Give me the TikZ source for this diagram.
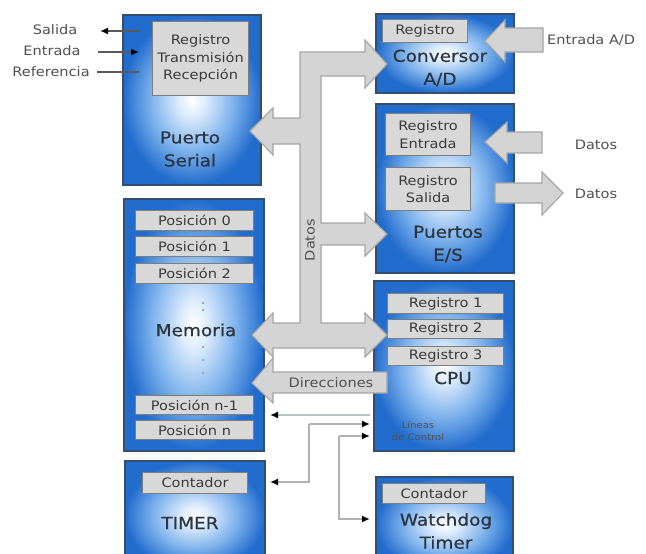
\documentclass[tikz,border=0pt]{standalone}
\usepackage{fontspec}
\setmainfont[FakeStretch=1.12]{DejaVu Sans}
\newfontfamily\titlefont[FakeStretch=1.12,FakeBold=0.6]{DejaVu Sans}
\usetikzlibrary{arrows.meta}

\definecolor{boxedge}{RGB}{34,108,205}
\definecolor{boxmid}{RGB}{125,178,236}
\definecolor{boxlight}{RGB}{220,235,252}
\definecolor{boxline}{RGB}{52,78,108}
\definecolor{regfill}{RGB}{216,216,216}
\definecolor{regline}{RGB}{125,125,125}
\definecolor{busfill}{RGB}{212,212,212}
\definecolor{busline}{RGB}{165,165,165}
\definecolor{maintext}{RGB}{44,52,64}
\definecolor{regtext}{RGB}{58,58,58}
\definecolor{sidetext}{RGB}{80,80,80}
\definecolor{ctlgrey}{RGB}{178,178,178}
\definecolor{ctlteal}{RGB}{182,198,198}

\pgfdeclareradialshading{blockshade}{\pgfpoint{0bp}{0bp}}{%
  color(0bp)=(white); color(5bp)=(boxlight); color(15bp)=(boxmid);
  color(25bp)=(boxedge); color(50bp)=(boxedge)}

\tikzset{
  block/.style={draw=boxline, line width=1.8pt, shading=blockshade,
    inner sep=0pt, anchor=north west},
  reg/.style={draw=regline, fill=regfill, line width=1.1pt, inner sep=0pt,
    anchor=north west, text=regtext, font=\fontsize{13}{17.5}\selectfont,
    align=center},
  title/.style={text=maintext, font=\titlefont\fontsize{16.5}{23}\selectfont,
    align=center, inner sep=0pt},
  side/.style={text=sidetext, font=\fontsize{13}{15}\selectfont, inner sep=0pt},
  small/.style={text=sidetext, font=\fontsize{9}{12.5}\selectfont, align=center,
    inner sep=0pt},
  bus/.style={draw=busline, fill=busfill, line width=1.1pt, line join=miter},
  sigline/.style={draw=black!65, line width=1.8pt},
  ctl/.style={draw=ctlgrey, line width=2.4pt},
  tip/.style={-{Latex[length=8pt,width=7pt,color=black]}},
  dot/.style={fill=black!35}
}

\begin{document}
\begin{tikzpicture}[x=1pt,y=-1pt]
\useasboundingbox (0,0) rectangle (646,554);
\clip (0,0) rectangle (646,554);

% ---- blocks ----
\node[block, minimum width=138, minimum height=170] (serial) at (122,14) {};
\node[block, minimum width=138, minimum height=79]  (adc)    at (375,13) {};
\node[block, minimum width=138, minimum height=169] (io)     at (375,103) {};
\node[block, minimum width=140, minimum height=252] (mem)    at (123,198) {};
\node[block, minimum width=140, minimum height=170] (cpu)    at (373,280) {};
\node[block, minimum width=140, minimum height=110] (timer)  at (124,460) {};
\node[block, minimum width=137, minimum height=95]  (wdog)   at (375,476) {};

% ---- registers inside the blocks ----
\node[reg, minimum width=96, minimum height=74] (sreg) at (152,21)
  {Registro\\Transmisión\\Recepción};
\node[reg, minimum width=85, minimum height=23] (adreg) at (382,19) {Registro};
\node[reg, minimum width=85, minimum height=42] (inreg) at (385,113) {Registro\\Entrada};
\node[reg, minimum width=85, minimum height=43] (outreg) at (385,167) {Registro\\Salida};

\node[reg, minimum width=118, minimum height=20] (p0) at (135,210) {Posición 0};
\node[reg, minimum width=118, minimum height=20] (p1) at (135,236) {Posición 1};
\node[reg, minimum width=118, minimum height=20] (p2) at (135,263) {Posición 2};
\node[reg, minimum width=118, minimum height=19] (pn1) at (135,395) {Posición n-1};
\node[reg, minimum width=118, minimum height=19] (pn) at (135,420) {Posición n};

\node[reg, minimum width=116, minimum height=20] (r1) at (387,293) {Registro 1};
\node[reg, minimum width=116, minimum height=19] (r2) at (387,319) {Registro 2};
\node[reg, minimum width=116, minimum height=19] (r3) at (387,346) {Registro 3};

\node[reg, minimum width=105, minimum height=21] (treg) at (142,472) {Contador};
\node[reg, minimum width=103, minimum height=20] (wreg) at (382,483) {Contador};

% ---- block titles ----
\node[title] (serialt) at (190,149) {Puerto\\Serial};
\node[title] (adct) at (440,68) {Conversor\\A/D};
\node[title] (iot) at (448,244) {Puertos\\E/S};
\node[title] (memt) at (196,330) {Memoria};
\node[title] (cput) at (453,378) {CPU};
\node[title] (timert) at (190,523) {TIMER};
\node[title] (wdogt) at (446,531) {Watchdog\\Timer};
\node[small] (ctlt) at (418,431) {Líneas\\de Control};

% memory ellipsis dots
\foreach \yy in {303,310,347,360,373} \fill[dot] (203,\yy) circle (1.3);

% ---- data bus with its branches ----
\path[bus] (300,52) -- (365,52) -- (365,40) -- (387,64) -- (365,88) -- (365,76)
  -- (321,76) -- (321,223) -- (365,223) -- (365,213) -- (387,234) -- (365,256)
  -- (365,245) -- (321,245) -- (321,323) -- (365,323) -- (365,313) -- (387,335)
  -- (365,357) -- (365,348) -- (273,348) -- (273,357) -- (252,335) -- (273,313)
  -- (273,323) -- (300,323) -- (300,144) -- (273,144) -- (273,155) -- (250,131)
  -- (273,108) -- (273,118) -- (300,118) -- cycle;
\node[side, rotate=90] (datost) at (310,240) {Datos};

% address bus
\path[bus] (387,372) -- (387,393) -- (273,393) -- (273,403) -- (252,383)
  -- (273,358) -- (273,372) -- cycle;
\node[side] (dirt) at (331,383) {Direcciones};

% A/D input and parallel port data
\path[bus] (543,28) -- (543,52) -- (505,52) -- (505,62) -- (485,41) -- (505,20)
  -- (505,28) -- cycle;
\node[side, anchor=west] (adin) at (547,40) {Entrada A/D};
\path[bus] (542,132) -- (542,153) -- (507,153) -- (507,163) -- (485,142)
  -- (507,122) -- (507,132) -- cycle;
\node[side] (din) at (596,145) {Datos};
\path[bus] (495,183) -- (542,183) -- (542,172) -- (563,193) -- (542,215)
  -- (542,203) -- (495,203) -- cycle;
\node[side] (dout) at (596,194) {Datos};

% ---- serial port signals ----
\node[side] (salt) at (55,30) {Salida};
\node[side] (entt) at (52,51) {Entrada};
\node[side] (reft) at (51,72) {Referencia};
\coordinate (salA) at (140,31);  \coordinate (salB) at (100,31);
\coordinate (entA) at (98,52);   \coordinate (entB) at (139,52);
\coordinate (refA) at (97,72);   \coordinate (refB) at (139,72);
\draw[sigline, tip] (salA) -- (salB);
\draw[sigline, tip] (entA) -- (entB);
\draw[sigline] (refA) -- (refB);

% ---- control lines ----
\coordinate (c1a) at (370,415); \coordinate (c1b) at (270,415);
\draw[draw=ctlteal, line width=2.4pt, tip] (c1a) -- (c1b);
\coordinate (c2a) at (309,424); \coordinate (c2b) at (309,482);
\draw[ctl, tip] (c2a) -- (370,424);
\draw[ctl, tip] (c2a) -- (c2b) -- (270,482);
\coordinate (c3a) at (339,436); \coordinate (c3b) at (339,519);
\draw[ctl, tip] (c3a) -- (370,436);
\draw[ctl, tip] (c3a) -- (c3b) -- (370,519);
\end{tikzpicture}
\end{document}
